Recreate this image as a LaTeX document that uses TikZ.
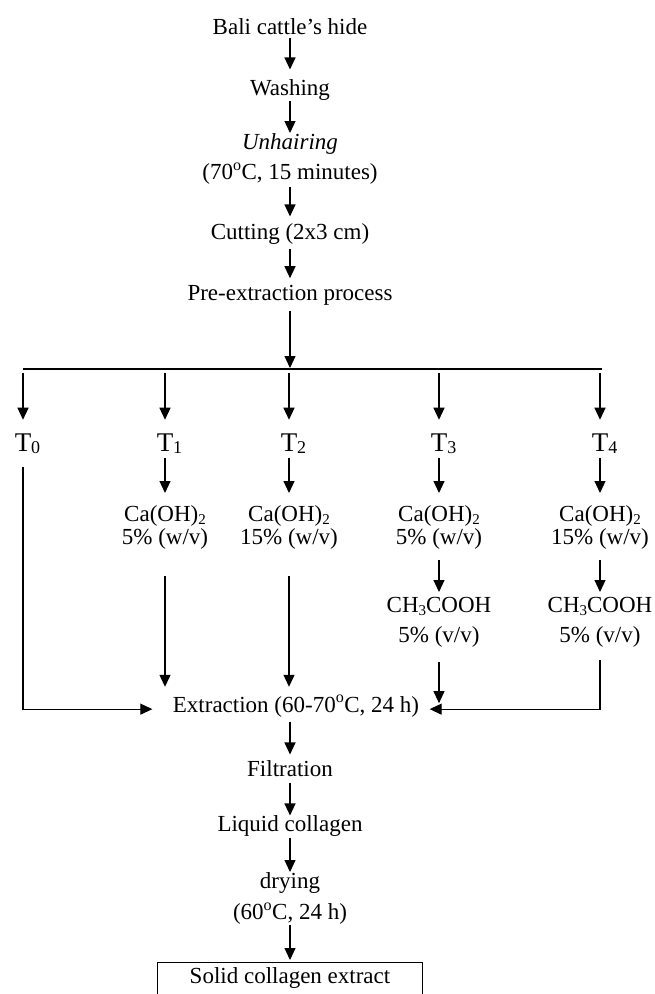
\documentclass[tikz,border=0pt]{standalone}
\usepackage{fontspec}
\setmainfont{Liberation Serif}
\usetikzlibrary{arrows.meta}

% small lowered index, as in the chemical formulas and T labels
\newcommand\idx[2][15]{\raisebox{-2.5pt}{\fontsize{#1}{#1}\selectfont #2}}

\begin{document}
\begin{tikzpicture}[x=1pt,y=-1pt,line width=1.2pt,
                    stage/.style={inner sep=0pt,anchor=base,
                                  font=\fontsize{23}{28}\selectfont},
                    twoline/.style={inner sep=0pt,anchor=north,align=center},
                    treat/.style={inner sep=0pt,anchor=base,
                                  font=\fontsize{27}{32}\selectfont},
                    result/.style={draw,anchor=north,inner xsep=0pt,inner ysep=5pt,
                                   minimum width=265pt,text depth=15pt,
                                   font=\fontsize{23}{28}\selectfont},
                    arr/.style={-{Triangle[length=12pt,width=11pt]}}]
  \useasboundingbox (0,0) rectangle (655,994);

  % main line down to the split
  \node[stage] (bali) at (290,34) {Bali cattle's hide};
  \node[stage] (wash) at (290,95) {Washing};
  \node[twoline,font=\fontsize{23}{30}\selectfont] (unhair) at (290,133)
       {\textit{Unhairing}\\(70\textsuperscript{o}C, 15 minutes)};
  \node[stage] (cut) at (290,239) {Cutting (2x3 cm)};
  \node[stage] (pre) at (290,300) {Pre-extraction process};

  \draw[arr,shorten <=3pt,shorten >=9pt] (bali) -- (wash);
  \draw[arr] (wash) -- (unhair);
  \draw[arr,shorten <=2pt,shorten >=6pt] (unhair) -- (cut);
  \draw[arr,shorten <=4pt,shorten >=6pt] (cut) -- (pre);

  \coordinate (barL) at (23,369);
  \coordinate (barR) at (602,369);
  \draw (barL) -- (barR);
  \draw[arr,shorten <=5pt,shorten >=1pt] (pre) -- (pre |- barL);

  % the five treatments
  \node[treat] (t0) at (23,451) {T\rlap{\idx[18]{0}}};
  \node[treat] (t1) at (165,451) {T\rlap{\idx[18]{1}}};
  \node[treat] (t2) at (289,451) {T\rlap{\idx[18]{2}}};
  \node[treat] (t3) at (439,451) {T\rlap{\idx[18]{3}}};
  \node[treat] (t4) at (600,451) {T\rlap{\idx[18]{4}}};
  \foreach \t in {t0,t1,t2,t3,t4}
    \draw[arr,shorten <=4pt,shorten >=13pt] (\t |- barL) -- (\t.north);

  \node[twoline,font=\fontsize{23}{23}\selectfont] (ca1) at (165,505)
       {Ca(OH)\idx{2}\\5\% (w/v)};
  \node[twoline,font=\fontsize{23}{23}\selectfont] (ca2) at (289,505)
       {Ca(OH)\idx{2}\\15\% (w/v)};
  \node[twoline,font=\fontsize{23}{23}\selectfont] (ca3) at (439,505)
       {Ca(OH)\idx{2}\\5\% (w/v)};
  \node[twoline,font=\fontsize{23}{23}\selectfont] (ca4) at (600,505)
       {Ca(OH)\idx{2}\\15\% (w/v)};
  \foreach \i in {1,2,3,4}
    \draw[arr,shorten <=4pt,shorten >=12pt] (t\i) -- (ca\i);

  \node[twoline,font=\fontsize{23}{30}\selectfont] (ch3) at (439,597)
       {CH\idx{3}COOH\\5\% (v/v)};
  \node[twoline,font=\fontsize{23}{30}\selectfont] (ch4) at (600,597)
       {CH\idx{3}COOH\\5\% (v/v)};
  \draw[arr,shorten <=10pt,shorten >=5pt] (ca3) -- (ch3);
  \draw[arr,shorten <=10pt,shorten >=5pt] (ca4) -- (ch4);

  % everything meets at the extraction
  \node[stage] (extr) at (296,712) {Extraction (60-70\textsuperscript{o}C, 24 h)};
  \coordinate (extrL) at ([yshift=-3pt]extr.west);
  \coordinate (extrR) at ([yshift=-3pt]extr.east);

  \draw[arr,shorten <=13pt,shorten >=20pt] (t0) |- (extrL);
  \draw[arr,shorten <=26pt,shorten >=8pt] (ca1) -- (ca1 |- extr.north);
  \draw[arr,shorten <=26pt,shorten >=8pt] (ca2) -- (ca2 |- extr.north);
  \draw[arr,shorten <=14pt,shorten >=6pt] (ch3) -- (ch3 |- extrR);
  \draw[arr,shorten <=12pt,shorten >=10pt] (ch4) |- (extrR);

  \node[stage] (filt) at (290,776) {Filtration};
  \node[stage] (liq) at (290,831) {Liquid collagen};
  \node[twoline,font=\fontsize{23}{31}\selectfont] (dry) at (290,872)
       {drying\\(60\textsuperscript{o}C, 24 h)};
  \node[result] (solid) at (290,962) {Solid collagen extract};

  \draw[arr,shorten <=4pt,shorten >=5pt] (filt.north |- extr.south) -- (filt.north);
  \draw[arr,shorten <=6pt,shorten >=-1pt] (filt) -- (liq);
  \draw[arr,shorten <=1pt] (liq) -- (dry);
  \draw[arr,shorten >=2pt] (dry) -- (solid);
\end{tikzpicture}
\end{document}
